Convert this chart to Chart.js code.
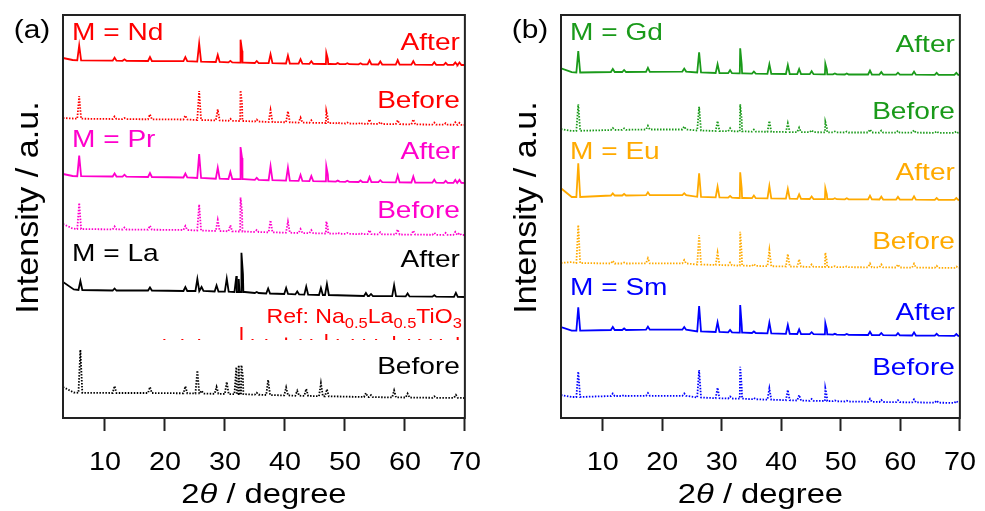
<!DOCTYPE html>
<html>
<head>
<meta charset="utf-8">
<script src="https://cdn.jsdelivr.net/npm/chart.js@4.4.0/dist/chart.umd.min.js"></script>
<style>
  body { margin: 0; background: #fff; }
  #wrap { position: relative; width: 985px; height: 511px; }
  canvas { position: absolute; top: 0; }
</style>
</head>
<body>
<div id="wrap">
  <canvas id="chartA" width="490" height="511" style="left:0"></canvas>
  <canvas id="chartB" width="490" height="511" style="left:495px"></canvas>
</div>
<script>
// x axis ticks (2theta)
const xTicks = [10, 20, 30, 40, 50, 60, 70];

// ---- (a) Nd / Pr : peak positions, baseline level and peak top (a.u.) ----
const peaksNdPr = [3, 4.6, 5.7, 11.6, 13.25, 17.5, 23.4, 25.7, 28.8, 30.9, 32.6, 32.85, 35.3, 37.6, 40.5, 42.6, 44.4, 46.9, 47.15, 48.8, 50.4, 52.6, 54.1, 55.9, 58.8, 61.4, 64.9, 66.8, 68.4, 69.1, 70];
const ndAfterBase = [7, 5.0, 4.6, 4.3, 4.2, 4.0, 3.8, 3.4, 3.0, 2.6, 2.4, 2.4, 2.0, 1.8, 1.5, 1.3, 1.2, 1.0, 1.0, 0.9, 0.8, 0.7, 0.6, 0.5, 0.4, 0.3, 0.2, 0.1, 0.1, 0, 0];
const ndAfterTop = [7, 5.0, 19.5, 7.3, 5.7, 8, 7.8, 21.5, 10, 4.1, 25.3, 14.3, 4, 10.8, 9.5, 5.8, 3.7, 12, 6, 1.9, 1.8, 1.7, 4.6, 3.5, 4.9, 3.8, 2.7, 2.1, 2.6, 2.5, 0];
const ndBeforeBase = [7, 6.5, 6.3, 6, 5.9, 5.7, 5.5, 5, 4.6, 4.2, 4, 4, 3.5, 3, 2.7, 2.4, 2.2, 2, 2, 1.7, 1.5, 1.3, 1.1, 1, 0.8, 0.6, 0.4, 0.3, 0.2, 0.1, 0];
const ndBeforeTop = [7, 6.5, 28.8, 8.5, 6.9, 10.7, 9.5, 34, 15.6, 6.2, 34.5, 21, 5.5, 15, 13.7, 7.4, 4.7, 14, 7, 2.7, 2.5, 2.3, 5.6, 3, 4.8, 5.6, 2.4, 1.8, 2.7, 2.1, 0];
const prAfterBase = [9, 7, 6.8, 6.5, 6.3, 6, 5.5, 5, 4.3, 4, 3.8, 3.8, 3.2, 2.8, 2.4, 2.1, 1.9, 1.6, 1.6, 1.4, 1.2, 1, 0.9, 0.8, 0.6, 0.5, 0.3, 0.2, 0.1, 0.1, 0];
const prAfterTop = [9, 7, 27.3, 9.5, 8.3, 10, 9.5, 29, 15.3, 11, 36, 25, 5.2, 16.8, 15.4, 8.1, 6.9, 16.6, 8.6, 2.4, 2.2, 2.5, 5.9, 2.8, 7.6, 6.5, 3.3, 2.2, 3.1, 3.1, 0];
const prBeforeBase = [11, 6.5, 6, 5.6, 5.5, 5.3, 5, 4.5, 4, 3.7, 3.5, 3.5, 3, 2.7, 2.3, 2, 1.8, 1.5, 1.5, 1.3, 1.1, 0.9, 0.8, 0.7, 0.5, 0.4, 0.2, 0.1, 0.1, 0, 0];
const prBeforeTop = [11, 6.5, 32, 8.6, 7.5, 9.3, 9, 30.5, 15, 9.7, 37.5, 23.5, 5, 14.7, 13.3, 6, 4.8, 13.5, 7.5, 2.3, 2.1, 1.9, 4.8, 2.7, 5.5, 4.4, 2.2, 2.1, 3.1, 2, 0];

// ---- (a) La ----
const peaksLa = [3, 4.8, 5.9, 11.6, 17.5, 23.4, 25.4, 26.1, 28.6, 30.3, 31.9, 32.3, 32.75, 33.0, 35.3, 37.2, 40.2, 42.05, 43.55, 46.0, 47.0, 53.5, 54.35, 58.2, 60.45, 64.9, 68.5, 70];
const laAfterBase = [15, 7.5, 7, 6.5, 6.5, 6, 6, 6, 5.5, 5.3, 5, 5, 5, 5, 4, 3.5, 3, 2.6, 2.4, 2, 2, 1, 1, 0.8, 0.6, 0.3, 0.1, 0];
const laAfterTop = [15, 7.5, 16, 8.5, 9.5, 10, 18, 10, 11.5, 18.3, 21, 18, 44.3, 23, 5, 8.5, 9, 5.6, 10.4, 9, 13, 4, 3, 11.8, 3.6, 1.8, 4.1, 0];
const laBeforeBase = [11, 5.5, 5.2, 5, 5, 4.7, 4.5, 4.4, 4.2, 4, 3.8, 3.8, 3.8, 3.8, 3.3, 3, 2.6, 2.3, 2.1, 1.8, 1.7, 1, 0.9, 0.6, 0.5, 0.2, 0.1, 0];
const laBeforeTop = [11, 5.5, 48.2, 12, 11, 11.7, 27.5, 7.4, 11.2, 16, 30.8, 32.8, 32.8, 20.8, 5.3, 18, 10.6, 7.3, 9.1, 14.8, 8.7, 5, 2.9, 7.6, 4.5, 1.7, 3.1, 0];

// reference pattern Na0.5La0.5TiO3 (stick positions / heights)
const refPos = [19.9, 22.9, 25.7, 32.75, 34.6, 36.9, 40.2, 42.6, 44.4, 46.9, 48.8, 51.3, 53.2, 55.2, 58.2, 60.7, 62.4, 64.3, 66.0, 68.8];
const refInt = [1, 1, 1, 13, 1, 1, 2.5, 1, 1, 6, 1, 1, 1, 1, 4, 1, 1, 1, 1, 3];

// ---- (b) Gd / Eu / Sm ----
const peaksGdEuSm = [3, 4.8, 5.9, 11.7, 13.6, 17.6, 23.7, 26.2, 29.3, 31.4, 33.1, 33.35, 35.4, 38.0, 41.1, 43.0, 45.1, 47.4, 47.65, 49.0, 51.0, 54.9, 56.8, 59.6, 62.3, 66.1, 69.4, 70];
const gdAfterBase = [6.7, 2.8, 2.5, 3, 3, 3.2, 3.4, 2.5, 2, 1.8, 1.6, 1.6, 1.4, 1.2, 1, 0.9, 0.8, 0.7, 0.7, 0.6, 0.5, 0.5, 0.4, 0.3, 0.3, 0.2, 0.1, 0];
const gdAfterTop = [6.7, 2.8, 24, 6, 5, 7.2, 6.4, 22.7, 10.7, 4.8, 26.7, 10.6, 3.4, 10.7, 10, 5.9, 3.8, 11.3, 5.7, 1.6, 1.5, 4.5, 2.9, 2.3, 3.3, 2.2, 2.1, 0];
const gdBeforeBase = [4, 2, 2.2, 3, 3.2, 3.5, 3.5, 2.5, 2, 1.8, 1.6, 1.6, 1.4, 1.2, 1, 0.9, 0.8, 0.7, 0.7, 0.6, 0.5, 0.5, 0.4, 0.3, 0.3, 0.2, 0.1, 0];
const gdBeforeTop = [4, 2, 28.7, 5, 4.7, 7.3, 6.5, 26.3, 12, 4.8, 28.7, 14, 3.4, 12, 9.7, 5.4, 2.8, 11.3, 5.7, 1.6, 1.5, 3.5, 2.4, 2.3, 2.8, 1.7, 1.6, 0];
const euAfterBase = [11.7, 3, 3, 4.5, 4.5, 4.8, 4.8, 3.2, 2.6, 2.3, 2, 2, 1.8, 1.6, 1.3, 1.1, 1, 0.9, 0.9, 0.8, 0.7, 0.6, 0.5, 0.4, 0.3, 0.2, 0.1, 0];
const euAfterTop = [11.7, 3, 36.7, 6.7, 6, 7.7, 6.8, 26.7, 13.3, 4, 27.7, 11.7, 4.5, 14, 11, 5.7, 3.5, 11.7, 5.5, 1.8, 1.7, 4.3, 3.3, 3.1, 3.7, 2, 2, 0];
const euBeforeBase = [5, 6, 5, 4.5, 4.5, 4.6, 4.6, 3.5, 3, 2.7, 2.4, 2.4, 2.1, 1.8, 1.5, 1.3, 1.1, 1, 1, 0.9, 0.8, 0.7, 0.6, 0.5, 0.4, 0.2, 0.1, 0];
const euBeforeTop = [5, 6, 43, 7.3, 5.5, 9.7, 8, 33, 15.3, 5.5, 36.3, 14.7, 4, 18, 14, 8.7, 3.5, 15.3, 7, 1.8, 1.6, 4.5, 3.5, 3.4, 4.3, 2.2, 1.5, 0];
const smAfterBase = [9, 5.3, 5.3, 6, 6, 6.3, 6.3, 4.5, 4, 3.6, 3.3, 3.3, 3, 2.6, 2.2, 2, 1.8, 1.6, 1.6, 1.4, 1.2, 1, 0.8, 0.6, 0.5, 0.3, 0.1, 0];
const smAfterTop = [9, 5.3, 28.7, 9, 7.5, 9.3, 9, 30, 13.7, 6, 31, 11, 4.5, 13.3, 11, 6.7, 3.8, 12.7, 6.5, 2.2, 2, 4.3, 3, 2.8, 3.6, 2.2, 2, 0];
const smBeforeBase = [8, 6, 6, 7, 7, 7.2, 7.2, 5.5, 4.8, 4.5, 4.3, 4.3, 3.8, 3.3, 2.8, 2.5, 2.2, 2, 2, 1.8, 1.5, 1.2, 1, 0.8, 0.6, 0.3, 0.1, 0];
const smBeforeTop = [8, 6, 31.3, 9.5, 8, 10, 9.5, 33, 15.3, 6.5, 36.3, 16.3, 5, 14.7, 13, 8, 4, 14.7, 7, 2.5, 2.2, 4.2, 3, 2.8, 3.6, 2.3, 2, 0];

// vertical stacking offsets of each pattern
const offsetsA = { ndAfter: 353, ndBefore: 293, prAfter: 235, prBefore: 183, laAfter: 121, ref: 78, laBefore: 20 };
const offsetsB = { gdAfter: 343, gdBefore: 285, euAfter: 218, euBefore: 150, smAfter: 82, smBefore: 15 };

const colNd = '#ff0000', colPr = '#ff00cc', colLa = '#000000';
const colGd = '#1a9a1a', colEu = '#ffaa00', colSm = '#0000ff';
const FONT = '"Liberation Sans", Arial, sans-serif';
const WIDE = 1.17;          // text is drawn a bit wide
const peakHalfWidth = 0.32;

Chart.defaults.font.family = FONT;

// peak list -> points for the line (feet on the baseline, apex on top)
function tracePoints(pos, base, top, offset) {
    const pts = [];
    pos.forEach((p, i) => {
        if (top[i] > base[i]) {
            pts.push({ x: p - peakHalfWidth, y: offset + base[i] });
            pts.push({ x: p, y: offset + top[i] });
            pts.push({ x: p + peakHalfWidth, y: offset + base[i] });
        } else {
            pts.push({ x: p, y: offset + base[i] });
        }
    });
    return pts.sort((a, b) => a.x - b.x);
}

function stickPoints(pos, h, offset) {
    const pts = [];
    pos.forEach((p, i) => {
        pts.push({ x: p, y: offset });
        pts.push({ x: p, y: offset + h[i] });
        pts.push({ x: p, y: null });
    });
    return pts;
}

function lineSet(data, color, dotted, width) {
    return {
        data: data,
        borderColor: color,
        borderWidth: width || 1.8,
        borderDash: dotted ? [1.5, 1.5] : [],
        pointRadius: 0,
        tension: 0,
        fill: false,
        spanGaps: false
    };
}

// widened text, align = left | center | right
function wideText(ctx, str, x, y, font, align, sx) {
    ctx.font = font;
    const w = ctx.measureText(str).width * sx;
    let x0 = x;
    if (align === 'center') x0 = x - w / 2;
    if (align === 'right') x0 = x - w;
    ctx.save();
    ctx.translate(x0, y);
    ctx.scale(sx, 1);
    ctx.textAlign = 'left';
    ctx.fillText(str, 0, 0);
    ctx.restore();
    return w;
}

// text made of [string, font, dy] pieces
function pieceText(ctx, parts, x, y, align, sx) {
    let w = 0;
    parts.forEach(pp => { ctx.font = pp[1]; w += ctx.measureText(pp[0]).width * sx; });
    let cx = align === 'right' ? x - w : (align === 'center' ? x - w / 2 : x);
    parts.forEach(pp => { cx += wideText(ctx, pp[0], cx, y + pp[2], pp[1], 'left', sx); });
}

// frame, labels and axis titles
function decoPlugin(letter, texts) {
    return {
        id: 'deco',
        afterDatasetsDraw(chart) {
            const ctx = chart.ctx, a = chart.chartArea, ys = chart.scales.y, xs = chart.scales.x;
            ctx.save();
            ctx.strokeStyle = '#222';
            ctx.lineWidth = 2;
            ctx.strokeRect(a.left, a.top, a.right - a.left, a.bottom - a.top);

            ctx.textBaseline = 'middle';
            texts.forEach(t => {
                const y = ys.getPixelForValue(t.v);
                ctx.fillStyle = t.color;
                if (t.ref) {
                    const big = '21px ' + FONT, small = '15px ' + FONT;
                    pieceText(ctx, [['Ref: Na', big, 0], ['0.5', small, 7], ['La', big, 0], ['0.5', small, 7], ['TiO', big, 0], ['3', small, 7]],
                        a.right - 3, y, 'right', 1.1);
                    return;
                }
                if (t.align === 'left') {
                    wideText(ctx, t.text, a.left + 9, y, '24px ' + FONT, 'left', WIDE);
                } else {
                    wideText(ctx, t.text, a.right - 5, y, '24px ' + FONT, 'right', WIDE);
                }
            });

            ctx.fillStyle = '#000';
            // tick labels
            xTicks.forEach(v => {
                wideText(ctx, String(v), xs.getPixelForValue(v), 463, '25px ' + FONT, 'center', 1.15);
            });

            // panel letter
            wideText(ctx, letter, a.left - 31, a.top + 16, '26px ' + FONT, 'center', 1.15);

            // y title
            ctx.save();
            ctx.translate(a.left - 34, (a.top + a.bottom) / 2 - 9);
            ctx.rotate(-Math.PI / 2);
            wideText(ctx, 'Intensity / a.u.', 0, 0, '31px ' + FONT, 'center', 1.1);
            ctx.restore();

            // x title: 2θ / degree (θ italic)
            pieceText(ctx, [['2', '28px ' + FONT, 0], ['\u03b8', 'italic 28px ' + FONT, 0], [' / degree', '28px ' + FONT, 0]],
                (a.left + a.right) / 2, 495, 'center', WIDE);
            ctx.restore();
        }
    };
}

function creat_panel(id, letter, datasets, texts, padLeft, padRight) {
    const ctx = document.getElementById(id).getContext('2d');
    return new Chart(ctx, {
        type: 'line',
        data: { datasets: datasets },
        plugins: [decoPlugin(letter, texts)],
        options: {
            responsive: false,
            animation: false,
            devicePixelRatio: 1,
            layout: { padding: { left: padLeft, right: padRight, top: 15, bottom: 0 } },
            plugins: { legend: { display: false }, tooltip: { enabled: false } },
            scales: {
                x: {
                    type: 'linear',
                    min: 3,
                    max: 70,
                    afterBuildTicks: s => { s.ticks = xTicks.map(v => ({ value: v })); },
                    afterFit: s => { s.height = 93; },
                    // labels are drawn by the deco plugin
                    ticks: { color: 'rgba(0,0,0,0)', font: { size: 20 }, padding: 14, maxRotation: 0, autoSkip: false },
                    grid: { drawOnChartArea: false, drawTicks: true, tickLength: 13, tickColor: '#222', tickWidth: 2 },
                    border: { display: true, color: '#222', width: 2 }
                },
                y: { min: 0, max: 403, display: false }
            }
        }
    });
}

const dataA = [
    lineSet(tracePoints(peaksNdPr, ndAfterBase, ndAfterTop, offsetsA.ndAfter), colNd, false),
    lineSet(tracePoints(peaksNdPr, ndBeforeBase, ndBeforeTop, offsetsA.ndBefore), colNd, true),
    lineSet(tracePoints(peaksNdPr, prAfterBase, prAfterTop, offsetsA.prAfter), colPr, false),
    lineSet(tracePoints(peaksNdPr, prBeforeBase, prBeforeTop, offsetsA.prBefore), colPr, true),
    lineSet(tracePoints(peaksLa, laAfterBase, laAfterTop, offsetsA.laAfter), colLa, false),
    lineSet(stickPoints(refPos, refInt, offsetsA.ref), colNd, false, 2),
    lineSet(tracePoints(peaksLa, laBeforeBase, laBeforeTop, offsetsA.laBefore), colLa, true)
];
const textA = [
    { text: 'M = Nd', align: 'left', v: 385, color: colNd },
    { text: 'After', align: 'right', v: 375, color: colNd },
    { text: 'Before', align: 'right', v: 317, color: colNd },
    { text: 'M = Pr', align: 'left', v: 278, color: colPr },
    { text: 'After', align: 'right', v: 266, color: colPr },
    { text: 'Before', align: 'right', v: 207, color: colPr },
    { text: 'M = La', align: 'left', v: 164, color: colLa },
    { text: 'After', align: 'right', v: 158, color: colLa },
    { ref: true, v: 101, color: colNd },
    { text: 'Before', align: 'right', v: 51, color: colLa }
];

const dataB = [
    lineSet(tracePoints(peaksGdEuSm, gdAfterBase, gdAfterTop, offsetsB.gdAfter), colGd, false),
    lineSet(tracePoints(peaksGdEuSm, gdBeforeBase, gdBeforeTop, offsetsB.gdBefore), colGd, true),
    lineSet(tracePoints(peaksGdEuSm, euAfterBase, euAfterTop, offsetsB.euAfter), colEu, false),
    lineSet(tracePoints(peaksGdEuSm, euBeforeBase, euBeforeTop, offsetsB.euBefore), colEu, true),
    lineSet(tracePoints(peaksGdEuSm, smAfterBase, smAfterTop, offsetsB.smAfter), colSm, false),
    lineSet(tracePoints(peaksGdEuSm, smBeforeBase, smBeforeTop, offsetsB.smBefore), colSm, true)
];
const textB = [
    { text: 'M = Gd', align: 'left', v: 385, color: colGd },
    { text: 'After', align: 'right', v: 373, color: colGd },
    { text: 'Before', align: 'right', v: 306, color: colGd },
    { text: 'M = Eu', align: 'left', v: 266, color: colEu },
    { text: 'After', align: 'right', v: 245, color: colEu },
    { text: 'Before', align: 'right', v: 176, color: colEu },
    { text: 'M = Sm', align: 'left', v: 130, color: colSm },
    { text: 'After', align: 'right', v: 105, color: colSm },
    { text: 'Before', align: 'right', v: 50, color: colSm }
];

creat_panel('chartA', '(a)', dataA, textA, 63, 24);
creat_panel('chartB', '(b)', dataB, textB, 66, 21);
</script>
</body>
</html>
